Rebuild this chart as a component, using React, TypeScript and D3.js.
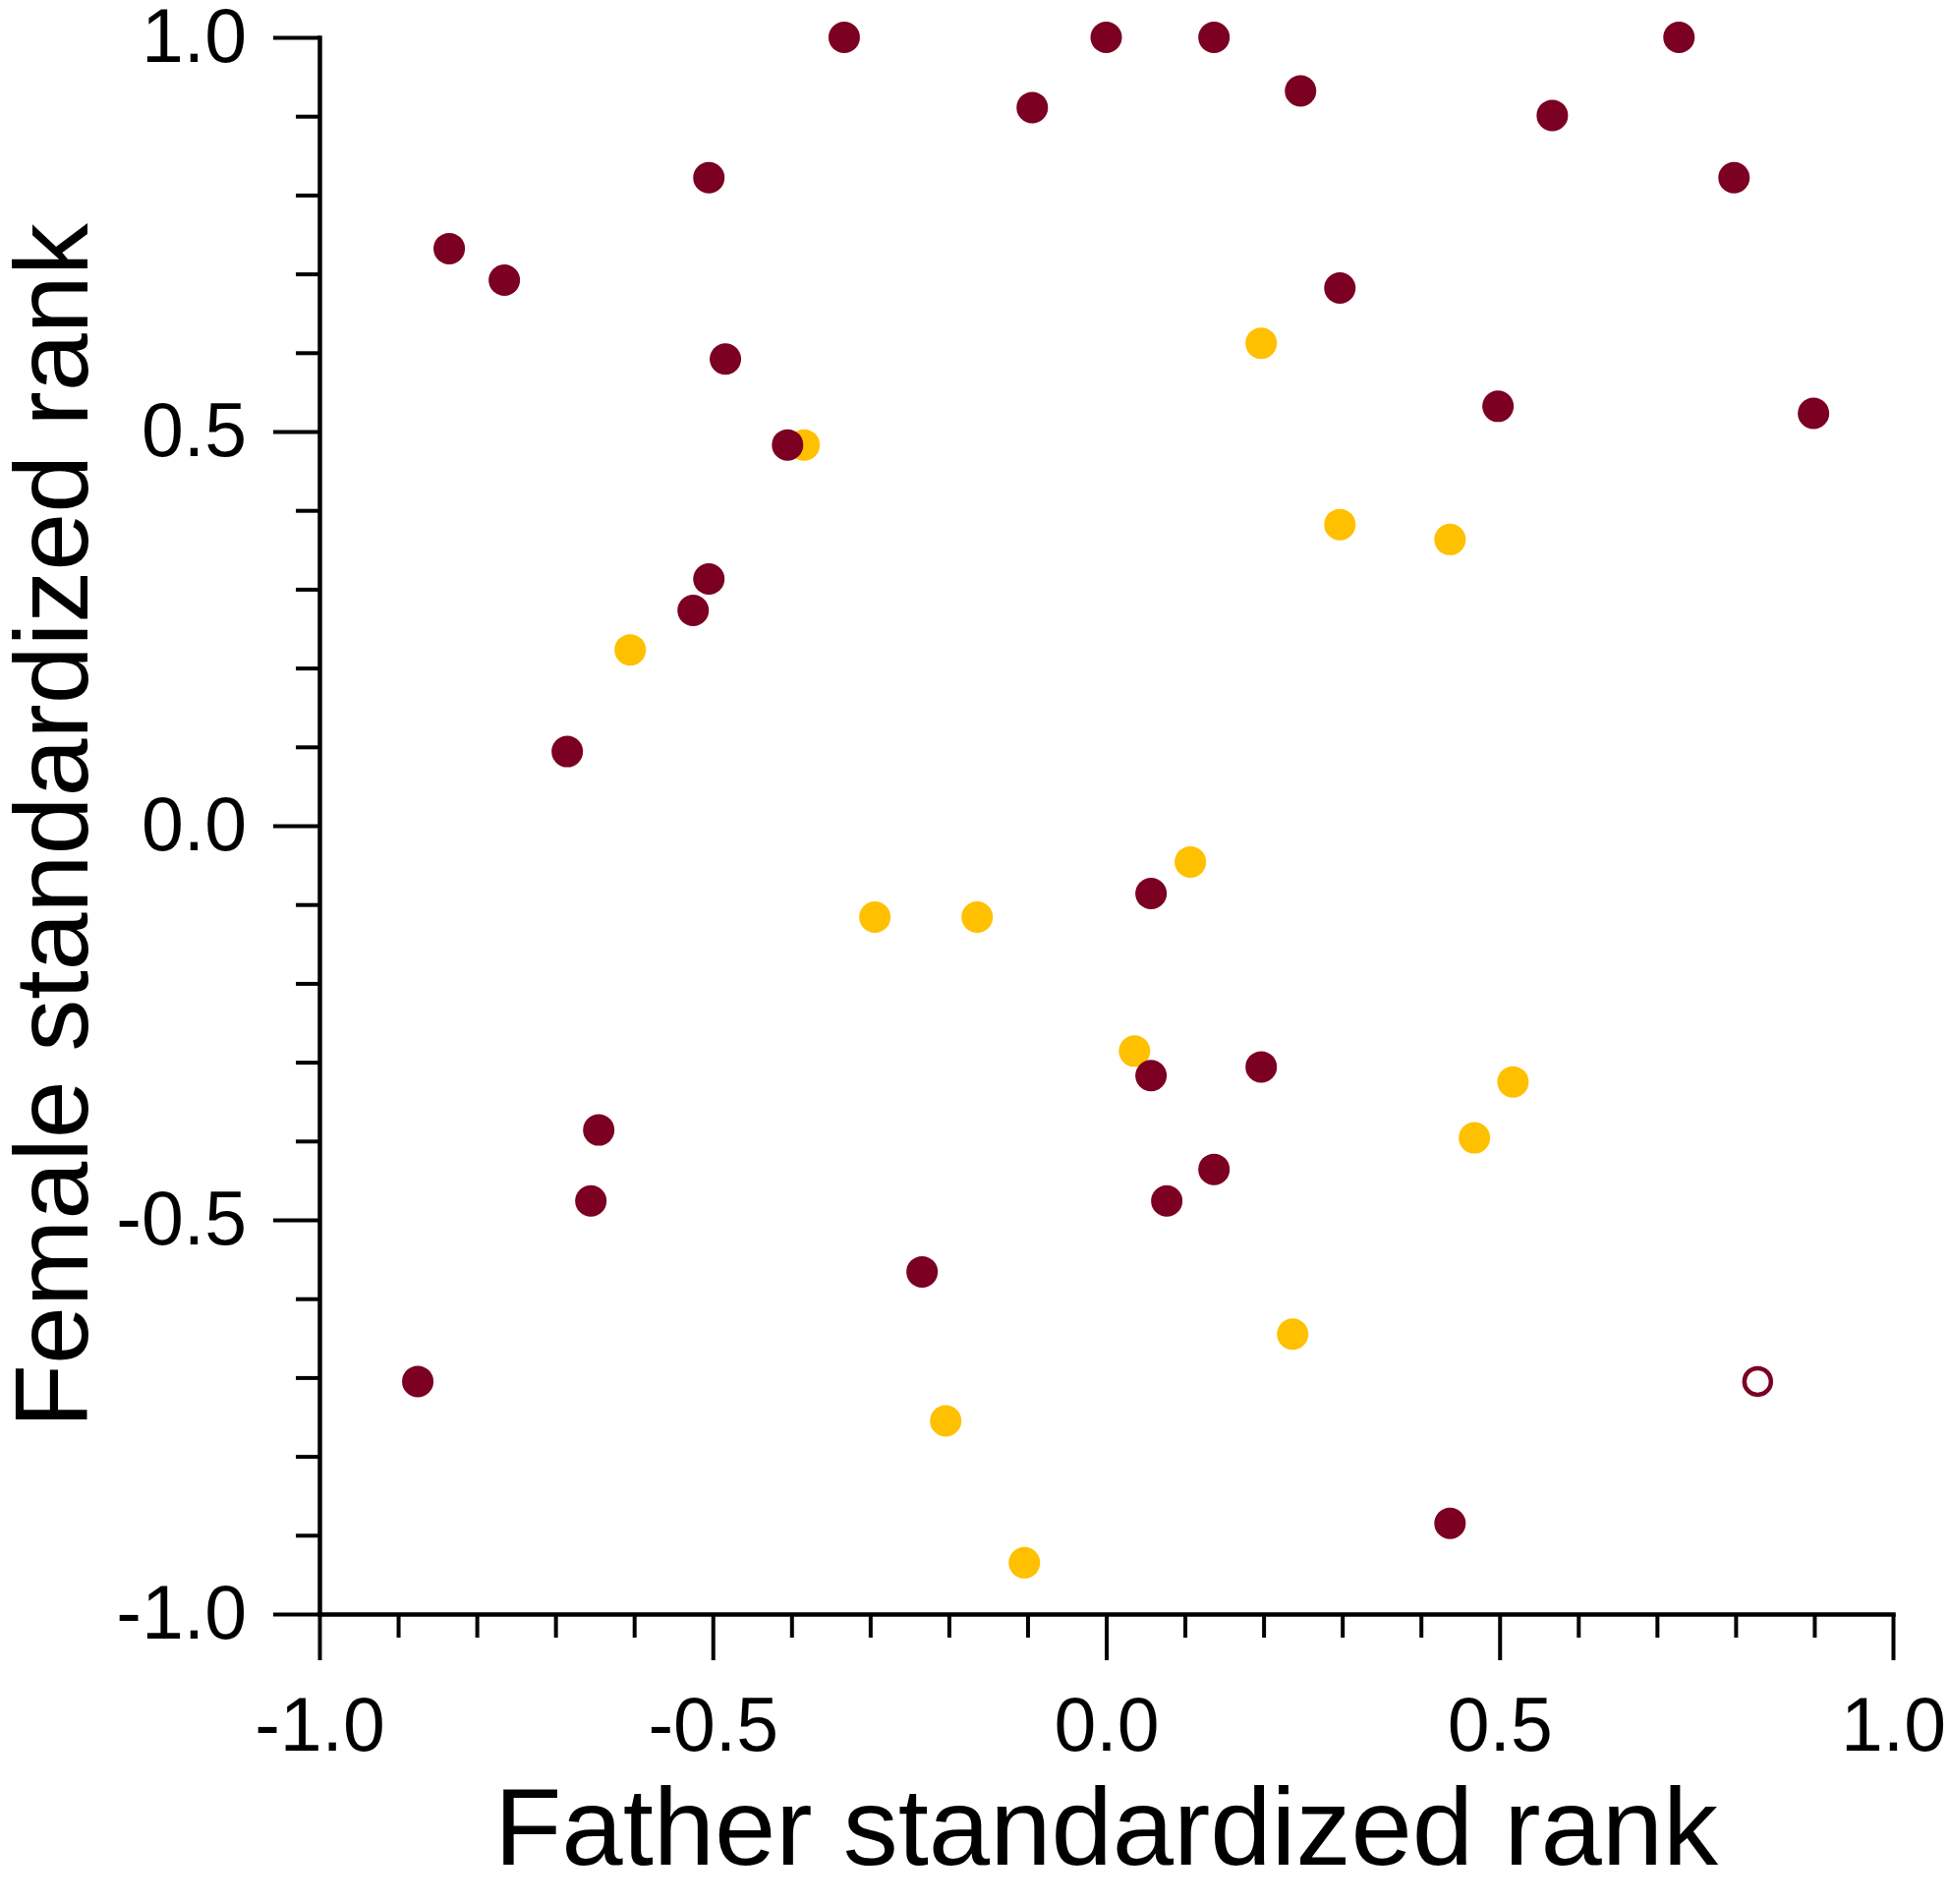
import React, { useRef, useEffect } from 'react';
import * as d3 from 'd3';

// maroon (filled) points
const maroonX = [-0.333, 0.0, 0.137, 0.728, -0.094, 0.247, 0.567, -0.505, 0.798, -0.835, -0.765, 0.297, -0.484, -0.405, 0.498, 0.899, -0.505, -0.525, -0.685, 0.057, 0.057, 0.197, -0.645, -0.655, 0.137, 0.077, -0.234, -0.875, 0.437];
const maroonY = [1.0, 1.0, 1.0, 1.0, 0.911, 0.932, 0.901, 0.822, 0.822, 0.732, 0.692, 0.682, 0.592, 0.483, 0.532, 0.523, 0.313, 0.273, 0.094, -0.086, -0.317, -0.306, -0.386, -0.476, -0.436, -0.476, -0.566, -0.705, -0.885];

// yellow points
const yellowX = [0.197, -0.384, 0.297, 0.437, -0.605, 0.107, -0.294, -0.164, 0.036, 0.517, 0.468, 0.237, -0.204, -0.104];
const yellowY = [0.612, 0.483, 0.382, 0.363, 0.223, -0.046, -0.116, -0.116, -0.286, -0.325, -0.396, -0.645, -0.755, -0.935];

// open circle
const openX = [0.828];
const openY = [-0.705];

const majorTicks = [-1.0, -0.5, 0.0, 0.5, 1.0];
const majorLabels = ['-1.0', '-0.5', '0.0', '0.5', '1.0'];
const minorTicks = [-0.9, -0.8, -0.7, -0.6, -0.4, -0.3, -0.2, -0.1, 0.1, 0.2, 0.3, 0.4, 0.6, 0.7, 0.8, 0.9];

const xTitle = 'Father standardized rank';
const yTitle = 'Female standardized rank';

const MAROON = '#7b0022';
const YELLOW = '#ffc000';
const FONT = '"Liberation Sans", Arial, Helvetica, sans-serif';

const width = 1983;
const height = 1937;

const App: React.FC = () => {
  const svgRef = useRef<SVGSVGElement | null>(null);

  useEffect(() => {
    if (!svgRef.current) return;
    const svg = d3.select(svgRef.current);
    svg.selectAll('*').remove();

    const x = d3.scaleLinear().domain([-1, 1]).range([325, 1926]);
    const y = d3.scaleLinear().domain([-1, 1]).range([1642, 38]);

    // plain hyphen labels, as in the original
    const label = (d: d3.NumberValue) => majorLabels[majorTicks.indexOf(d as number)];

    // minor ticks
    const yMinor = svg.append('g')
      .attr('transform', `translate(${x(-1)},0)`)
      .call(d3.axisLeft(y).tickValues(minorTicks).tickSize(24).tickSizeOuter(0).tickFormat(() => ''));
    const xMinor = svg.append('g')
      .attr('transform', `translate(0,${y(-1)})`)
      .call(d3.axisBottom(x).tickValues(minorTicks).tickSize(24).tickSizeOuter(0).tickFormat(() => ''));
    [yMinor, xMinor].forEach(g => {
      g.select('.domain').remove();
      g.selectAll('line').attr('stroke', '#000').attr('stroke-width', 4);
    });

    // major ticks + labels
    const yAxis = svg.append('g')
      .attr('transform', `translate(${x(-1)},0)`)
      .call(d3.axisLeft(y).tickValues(majorTicks).tickSize(47).tickSizeOuter(0).tickPadding(27).tickFormat(label));
    const xAxis = svg.append('g')
      .attr('transform', `translate(0,${y(-1)})`)
      .call(d3.axisBottom(x).tickValues(majorTicks).tickSize(47).tickSizeOuter(0).tickPadding(37).tickFormat(label));

    [yAxis, xAxis].forEach(g => {
      g.select('.domain')
        .attr('stroke', '#000')
        .attr('stroke-width', 4.5)
        .attr('stroke-linecap', 'square');
      g.selectAll('line').attr('stroke', '#000').attr('stroke-width', 4);
      g.selectAll('text')
        .attr('fill', '#000')
        .style('font-family', FONT)
        .style('font-size', '77px');
    });

    // points: yellow below, maroon on top
    const yellow = yellowX.map((v, i) => ({ x: v, y: yellowY[i] }));
    const maroon = maroonX.map((v, i) => ({ x: v, y: maroonY[i] }));
    const open = openX.map((v, i) => ({ x: v, y: openY[i] }));

    svg.append('g')
      .selectAll('circle')
      .data(yellow)
      .join('circle')
      .attr('cx', d => x(d.x))
      .attr('cy', d => y(d.y))
      .attr('r', 16)
      .attr('fill', YELLOW);

    svg.append('g')
      .selectAll('circle')
      .data(maroon)
      .join('circle')
      .attr('cx', d => x(d.x))
      .attr('cy', d => y(d.y))
      .attr('r', 16)
      .attr('fill', MAROON);

    svg.append('g')
      .selectAll('circle')
      .data(open)
      .join('circle')
      .attr('cx', d => x(d.x))
      .attr('cy', d => y(d.y))
      .attr('r', 13.5)
      .attr('fill', '#fff')
      .attr('stroke', MAROON)
      .attr('stroke-width', 4.5);

    // axis titles
    svg.append('text')
      .attr('x', (x(-1) + x(1)) / 2)
      .attr('y', 1897)
      .attr('text-anchor', 'middle')
      .style('font-family', FONT)
      .style('font-size', '112px')
      .text(xTitle);

    svg.append('text')
      .attr('transform', `translate(89,${(y(-1) + y(1)) / 2}) rotate(-90)`)
      .attr('text-anchor', 'middle')
      .style('font-family', FONT)
      .style('font-size', '106px')
      .text(yTitle);
  }, []);

  return (
    <svg
      ref={svgRef}
      width={width}
      height={height}
      style={{ position: 'absolute', left: 0, top: 0, background: '#fff' }}
    />
  );
};

export default App;
